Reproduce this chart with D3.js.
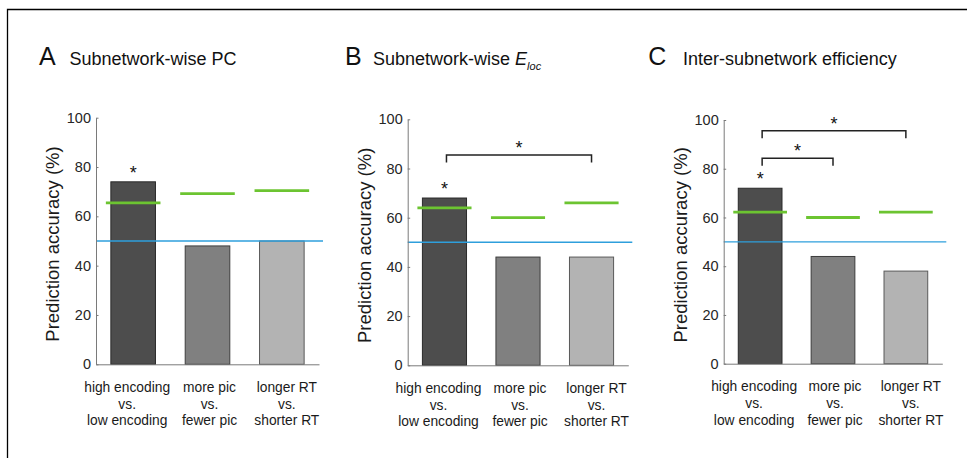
<!DOCTYPE html>
<html>
<head>
<meta charset="utf-8">
<script src="https://cdn.jsdelivr.net/npm/d3@7"></script>
<style>
  body { margin: 0; background: #fff; }
  svg { display: block; font-family: "Liberation Sans", Arial, sans-serif; }
  .tick text { fill: #262626; font-size: 14.5px; }
</style>
</head>
<body>
<div class="chart"></div>
<script>
// categories (three lines each) and y ticks
var categories = [
  ["high encoding", "vs.", "low encoding"],
  ["more pic", "vs.", "fewer pic"],
  ["longer RT", "vs.", "shorter RT"]
];
var yTicks = [0, 20, 40, 60, 80, 100];
var chanceLevel = 50;

// panel A: subnetwork-wise PC
var accuracyPC = [74, 48, 50];
var thresholdPC = [65.5, 69.2, 70.4];
var starsPC = [0];
var bracketsPC = [];

// panel B: subnetwork-wise Eloc
var accuracyEloc = [68, 44, 44];
var thresholdEloc = [64, 60, 66];
var starsEloc = [0];
var bracketsEloc = [[0, 2, 85.5]];

// panel C: inter-subnetwork efficiency
var accuracyInter = [72, 44, 38];
var thresholdInter = [62.2, 60, 62.2];
var starsInter = [0];
var bracketsInter = [[0, 2, 95.6], [0, 1, 84.3]];

var barFill = ["#4d4d4d", "#808080", "#b3b3b3"];
var barStroke = ["#2a2a2a", "#3c3c3c", "#5a5a5a"];
var labelShift = [-6, 2, 5];

var svg = d3.select(".chart").append("svg")
  .attr("width", 967)
  .attr("height", 458);

// frame lines
svg.append("path")
  .attr("d", "M7.5,458V9.5H967")
  .attr("fill", "none")
  .attr("stroke", "#000")
  .attr("stroke-width", 1.3);

var panels = [
  {letter: "A", title: "Subnetwork-wise PC", letterX: 39, titleX: 69.5, x0: 96, x1: 319, yTop: 117.7, yBot: 364.3,
   acc: accuracyPC, thr: thresholdPC, stars: starsPC, brackets: bracketsPC},
  {letter: "B", title: "Subnetwork-wise ", sub: true, letterX: 345, titleX: 373, x0: 407.7, x1: 628.3, yTop: 119.3, yBot: 365.3,
   acc: accuracyEloc, thr: thresholdEloc, stars: starsEloc, brackets: bracketsEloc},
  {letter: "C", title: "Inter-subnetwork efficiency", letterX: 648.3, titleX: 683, x0: 723.7, x1: 942.3, yTop: 120, yBot: 363.7,
   acc: accuracyInter, thr: thresholdInter, stars: starsInter, brackets: bracketsInter}
];

panels.forEach(function(p) {
  var g = svg.append("g");

  // titles
  g.append("text")
    .attr("x", p.letterX).attr("y", 65)
    .attr("font-size", "25px").attr("fill", "#111")
    .text(p.letter);
  var t = g.append("text")
    .attr("x", p.titleX).attr("y", 65)
    .attr("font-size", "18px").attr("fill", "#111")
    .text(p.title);
  if (p.sub) {
    t.append("tspan").attr("font-style", "italic").text("E");
    t.append("tspan").attr("font-style", "italic").attr("font-size", "11px")
      .attr("dy", 5).text("loc");
  }

  var x = d3.scaleBand()
    .domain(d3.range(categories.length))
    .range([p.x0, p.x1])
    .paddingInner(0.4)
    .paddingOuter(0.2);

  var y = d3.scaleLinear()
    .domain([0, 100])
    .range([p.yBot, p.yTop]);

  // bars
  g.selectAll("rect.bar")
    .data(p.acc)
    .enter()
    .append("rect")
    .attr("class", "bar")
    .attr("x", (d, i) => x(i))
    .attr("y", d => y(d))
    .attr("width", x.bandwidth())
    .attr("height", d => y(0) - y(d))
    .attr("fill", (d, i) => barFill[i])
    .attr("stroke", (d, i) => barStroke[i])
    .attr("stroke-width", 1);

  // chance level line
  g.append("line")
    .attr("x1", p.x0).attr("x2", p.x1 + 4)
    .attr("y1", y(chanceLevel)).attr("y2", y(chanceLevel))
    .attr("stroke", "#2e9fdc")
    .attr("stroke-width", 1.4);

  // significance thresholds
  var half = x.bandwidth() / 2 + 5;
  g.selectAll("line.thr")
    .data(p.thr)
    .enter()
    .append("line")
    .attr("class", "thr")
    .attr("x1", (d, i) => x(i) + x.bandwidth() / 2 - half)
    .attr("x2", (d, i) => x(i) + x.bandwidth() / 2 + half)
    .attr("y1", d => y(d))
    .attr("y2", d => y(d))
    .attr("stroke", "#6cc431")
    .attr("stroke-width", 2.8);

  // y axis
  var leftAxis = d3.axisLeft(y)
    .tickValues(yTicks)
    .tickSizeInner(-2.5)
    .tickSizeOuter(0)
    .tickPadding(5);
  var yAxis = g.append("g")
    .attr("transform", `translate(${p.x0},0)`)
    .call(leftAxis);
  yAxis.select(".domain").attr("stroke", "#7a7a7a");
  yAxis.selectAll(".tick line").attr("stroke", "#7a7a7a");

  // x axis (line only)
  var bottomAxis = d3.axisBottom(x).tickSize(0).tickFormat("");
  var xAxis = g.append("g")
    .attr("transform", `translate(0,${p.yBot})`)
    .call(bottomAxis);
  xAxis.select(".domain").attr("stroke", "#7a7a7a");

  // category labels
  categories.forEach(function(lines, i) {
    var lab = g.append("text")
      .attr("text-anchor", "middle")
      .attr("font-size", "13.8px")
      .attr("fill", "#1a1a1a");
    lines.forEach(function(s, k) {
      lab.append("tspan")
        .attr("x", x(i) + x.bandwidth() / 2 + labelShift[i])
        .attr("y", p.yBot + 27.5 + k * 16.7)
        .text(s);
    });
  });

  // y label
  g.append("text")
    .attr("transform", `translate(${p.x0 - 37},${(p.yTop + p.yBot) / 2 + 3}) rotate(-90)`)
    .attr("text-anchor", "middle")
    .attr("font-size", "18.5px")
    .attr("fill", "#1a1a1a")
    .text("Prediction accuracy (%)");

  // stars above bars
  g.selectAll("text.star")
    .data(p.stars)
    .enter()
    .append("text")
    .attr("class", "star")
    .attr("text-anchor", "middle")
    .attr("font-size", "18px")
    .attr("fill", "#111")
    .attr("x", d => x(d) + x.bandwidth() / 2)
    .attr("y", d => y(p.acc[d]) - 13 + 10)
    .text("*");

  // brackets
  p.brackets.forEach(function(b) {
    var xa = x(b[0]) + x.bandwidth() / 2 + 2;
    var xb = x(b[1]) + x.bandwidth() / 2;
    var yb = y(b[2]);
    g.append("path")
      .attr("d", `M${xa},${yb + 7.5}V${yb}H${xb}V${yb + 7.5}`)
      .attr("fill", "none")
      .attr("stroke", "#222")
      .attr("stroke-width", 1.5);
    g.append("text")
      .attr("text-anchor", "middle")
      .attr("font-size", "18px")
      .attr("fill", "#111")
      .attr("x", (xa + xb) / 2)
      .attr("y", yb - 11 + 10)
      .text("*");
  });
});
</script>
</body>
</html>
